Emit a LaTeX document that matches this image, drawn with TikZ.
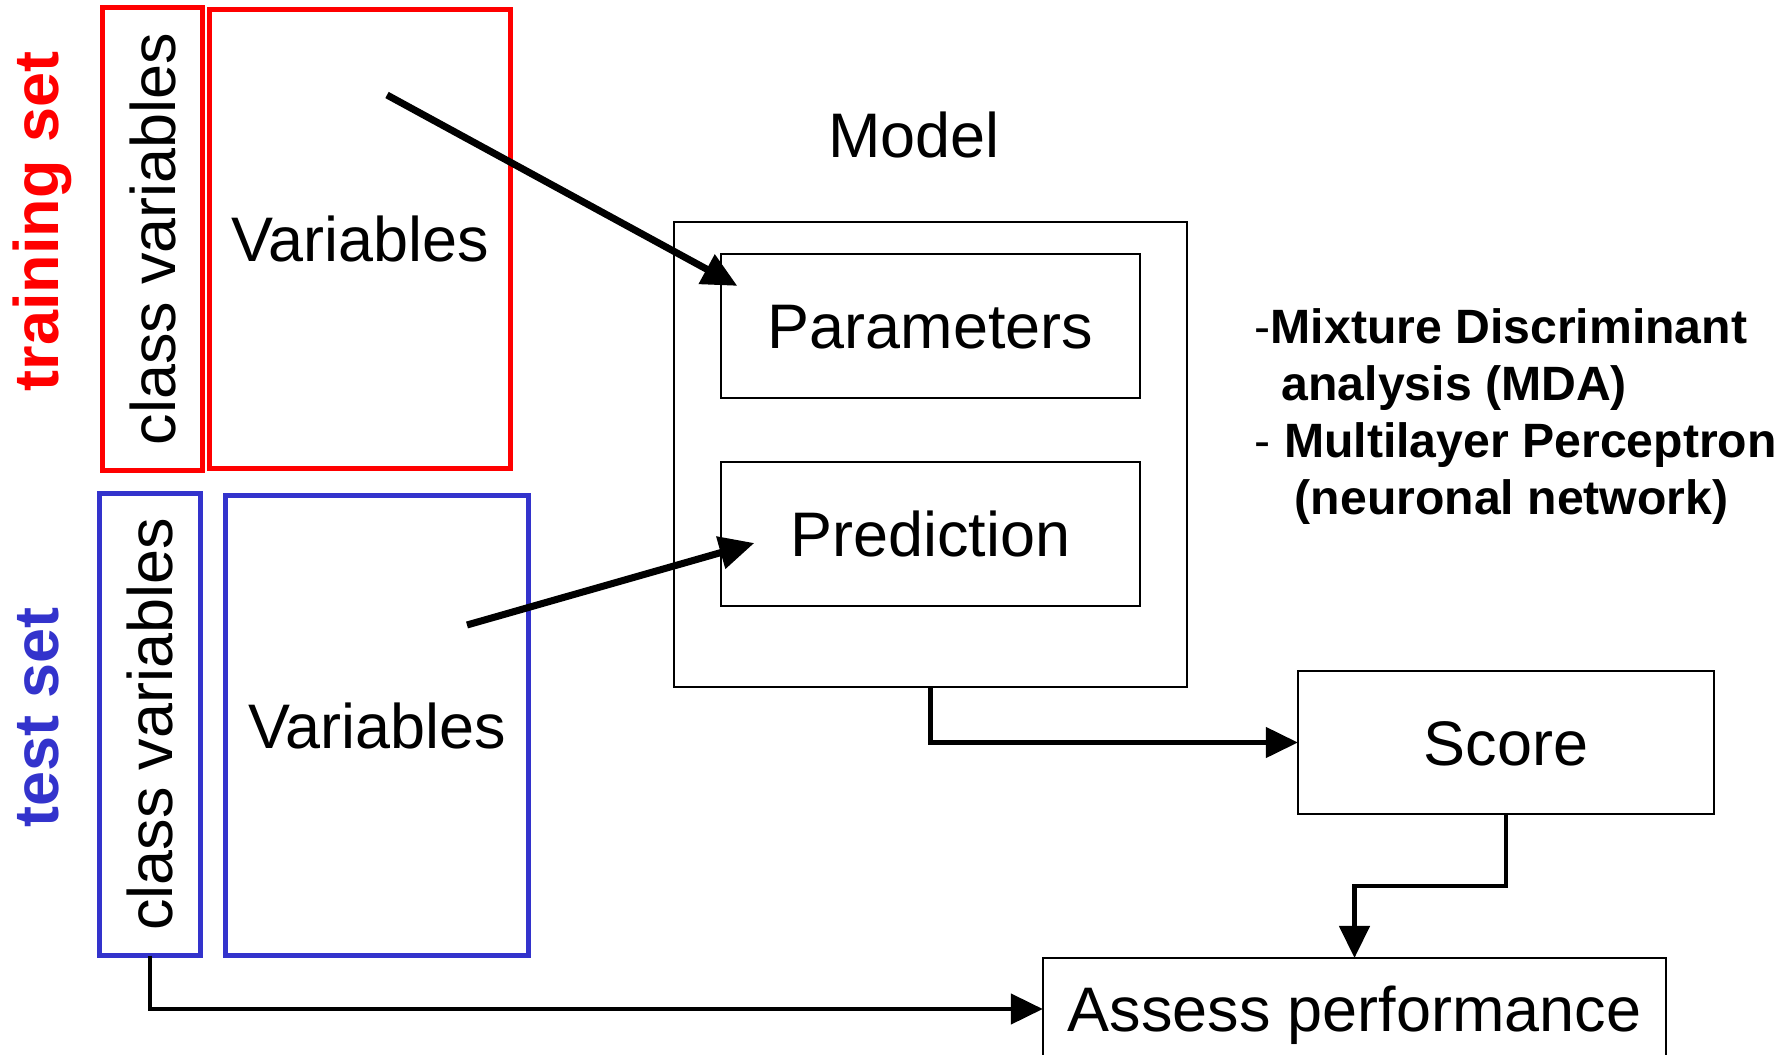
\documentclass[tikz,border=0pt]{standalone}
\usepackage{fontspec}
\setmainfont{Liberation Sans}
\usetikzlibrary{positioning, arrows.meta}
\definecolor{trainred}{RGB}{255,0,0}
\definecolor{testblue}{RGB}{51,51,204}

\begin{document}
\begin{tikzpicture}[x=0.01cm, y=-0.01cm,
        stagebox/.style={rectangle, draw, line width=0.6pt, inner sep=0pt, outer sep=0pt, minimum width=4.18cm, minimum height=1.44cm, font=\fontsize{17.9pt}{21pt}\selectfont, text height=12.9pt, text depth=0pt},
        setbox/.style={stagebox, draw=#1, line width=1.6pt},
        setlabel/.style={rotate=90, inner sep=0pt, text=#1, font=\fontsize{17.9pt}{21pt}\selectfont\bfseries},
        plaintext/.style={inner sep=0pt, outer sep=0pt, font=\fontsize{17.9pt}{21pt}\selectfont, text height=12.9pt, text depth=0pt},
        flow/.style={-{Triangle[length=0.35cm, width=0.32cm]}, line width=2pt},
        feed/.style={-{Triangle[length=0.32cm, width=0.30cm]}, line width=1.3pt}]

        \useasboundingbox (0,0) rectangle (1787,1054);

        \node (trainlbl) [setlabel=trainred, anchor=base] at (58,221.5) {training set};
        \node (traincls) [setbox=trainred, rotate=90, minimum width=4.63cm, minimum height=1.00cm] at (152.5,239) {class variables};
        \node (trainvar) [setbox=trainred, minimum width=3.01cm, minimum height=4.59cm] at (360,239) {Variables};

        \node (testlbl) [setlabel=testblue, anchor=base] at (58,717.5) {test set};
        \node (testcls) [setbox=testblue, rotate=90, minimum width=4.62cm, minimum height=1.01cm] at (150,724.5) {class variables};
        \node (testvar) [setbox=testblue, minimum width=3.03cm, minimum height=4.60cm] at (377,725.5) {Variables};

        \node (model) [stagebox, minimum width=5.13cm, minimum height=4.65cm] at (930.5,454.5) {};
        \node (modellbl) [plaintext, above=0.645cm of model, xshift=-0.165cm] {Model};
        \node (param) [stagebox, below=0.32cm of model.north] {Parameters};
        \node (pred) [stagebox, below=0.64cm of param] {Prediction};

        \node (score) [stagebox, minimum width=4.16cm, minimum height=1.43cm] at (1506,742.5) {Score};
        \node (assess) [stagebox, minimum width=6.23cm, minimum height=1.02cm] at (1354.5,1009) {Assess performance};

        \node (methods) [anchor=north west, align=left, inner sep=0pt, font=\fontsize{13.7pt}{16.2pt}\selectfont] at (1254,308)
            {-\textbf{Mixture Discriminant}\\
             \hspace*{0.27cm}\textbf{analysis (MDA)}\\
             - \textbf{Multilayer Perceptron}\\
             \hspace*{0.40cm}\textbf{(neuronal network)}};

        \coordinate (trainsrc) at (387,95);
        \coordinate (paramtip) at ([shift={(16,32)}]param.north west);
        \coordinate (testsrc) at (467,625);
        \coordinate (predtip) at ([shift={(33,81)}]pred.north west);

        \draw [flow] (trainsrc) -- (paramtip);
        \draw [flow] (testsrc) -- (predtip);
        \draw [feed] (model.south) |- (score.west);
        \draw [feed] (score.south) -- ++(0,72) -| (assess.north);
        \draw [feed] (testcls.west) |- (assess.west);

\end{tikzpicture}
\end{document}
